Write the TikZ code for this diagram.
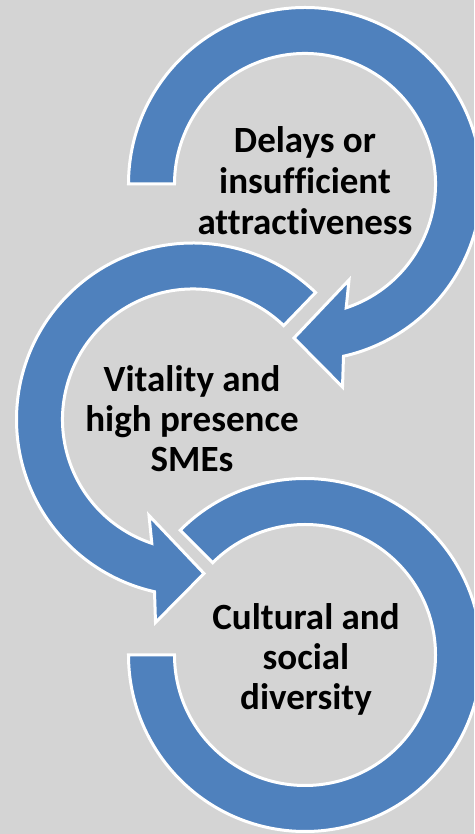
\documentclass[tikz,border=0pt]{standalone}
\usepackage{fontspec}
\setmainfont{Carlito}[Ligatures={NoCommon}]
\definecolor{bggray}{RGB}{212,212,212}
\definecolor{arrowblue}{HTML}{4F81BD}
\begin{document}
\begin{tikzpicture}[x=1pt,y=1pt,
  circarrow/.style={fill=arrowblue, draw=white, line width=3pt, line join=miter},
  lbl/.style={font=\fontsize{37}{41}\selectfont\bfseries, anchor=base, inner sep=0pt, text=black}]
\useasboundingbox (0,0) rectangle (474,834);
\clip (0,0) rectangle (474,834);
\fill[bggray] (0,0) rectangle (474,834);
\coordinate (c1) at (305,650);
\coordinate (c2) at (193,414.5);
\coordinate (c3) at (305,179);
% arrow 1
\begin{scope}[shift={(c1)}]
\path[circarrow] (180:176.5) arc[start angle=180, end angle=-77.4, radius=176.5]
  -- (37.5,-203) -- (-11,-154) -- (44,-96) -- (-71.6:130.5)
  arc[start angle=-71.6, end angle=180, radius=130.5] -- cycle;
\end{scope}
% arrow 2
\begin{scope}[shift={(c2)}]
\path[circarrow] (46:176.5) arc[start angle=46, end angle=257.4, radius=176.5]
  -- (-37.5,-203) -- (11,-154) -- (-44,-96) -- (251.6:130.5)
  arc[start angle=251.6, end angle=46, radius=130.5] -- cycle;
\end{scope}
% arrow 3
\begin{scope}[shift={(c3)}]
\path[circarrow] (135:176.5) arc[start angle=135, end angle=-180, radius=176.5]
  -- (180:130.5) arc[start angle=-180, end angle=135, radius=130.5] -- cycle;
\end{scope}
% labels
\node[lbl] (t1a) at (305,681) {Delays or};
\node[lbl] (t1b) at (305,640) {insufficient};
\node[lbl] (t1c) at (305,599) {attractiveness};
\node[lbl] (t2a) at (192,442.3) {Vitality and};
\node[lbl] (t2b) at (192,402.3) {high presence};
\node[lbl] (t2c) at (192,362.3) {SMEs};
\node[lbl] (t3a) at (306,204) {Cultural and};
\node[lbl] (t3b) at (306,164) {social};
\node[lbl] (t3c) at (306,124) {diversity};
\end{tikzpicture}
\end{document}
